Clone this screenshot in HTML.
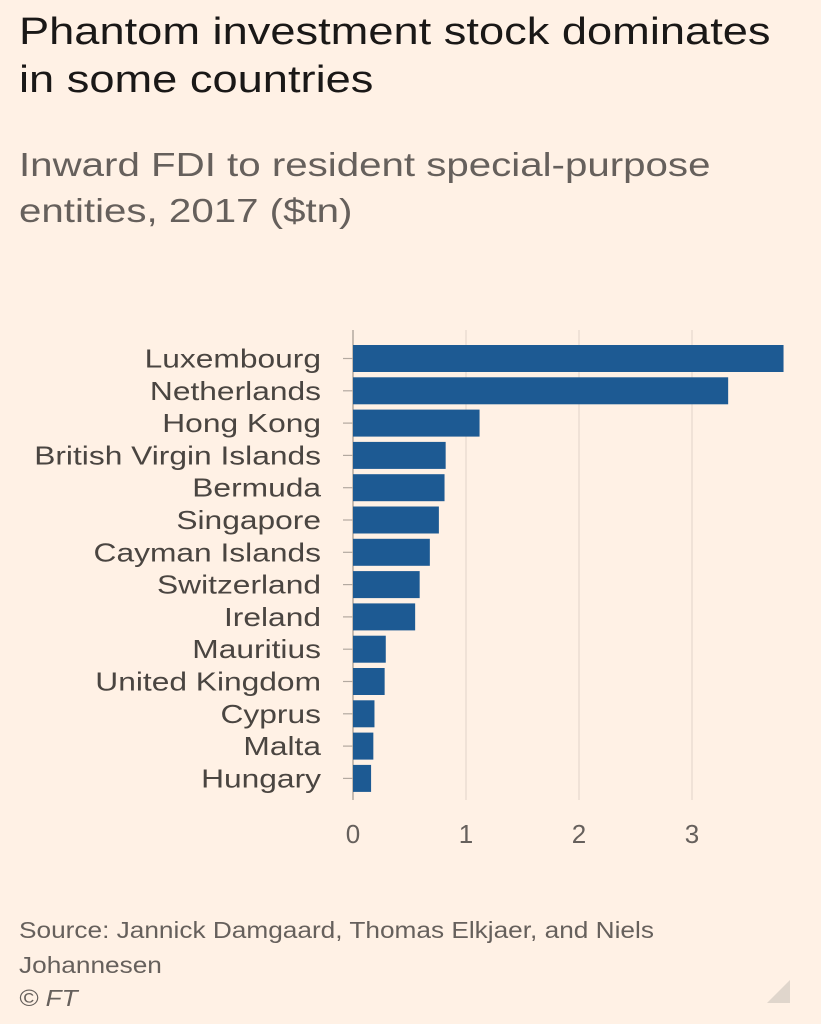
<!DOCTYPE html>
<html><head><meta charset="utf-8">
<style>
body{margin:0;background:#fff1e5;width:821px;height:1024px;overflow:hidden;font-family:"Liberation Sans",sans-serif;}
#title{position:absolute;left:19px;top:8px;font-size:38px;line-height:48px;color:#1a1817;transform:scaleX(1.19);transform-origin:0 0;white-space:nowrap;}
#sub{position:absolute;left:19px;top:142px;font-size:33px;line-height:46px;color:#66605c;transform:scaleX(1.22);transform-origin:0 0;white-space:nowrap;}
#src{position:absolute;left:19px;top:913px;font-size:23px;line-height:35px;color:#66605c;transform:scaleX(1.14);transform-origin:0 0;white-space:nowrap;}
#copy{position:absolute;left:19px;top:985px;font-size:23px;font-style:italic;color:#66605c;transform:scaleX(1.14);transform-origin:0 0;}
svg{position:absolute;left:0;top:0;}
</style></head><body>
<div id="title">Phantom investment stock dominates<br>in some countries</div>
<div id="sub">Inward FDI to resident special-purpose<br>entities, 2017 ($tn)</div>
<svg id="chart" width="821" height="1024"></svg>
<div id="src">Source: Jannick Damgaard, Thomas Elkjaer, and Niels<br>Johannesen</div>
<div id="copy">© FT</div>
<svg width="821" height="1024" style="pointer-events:none"><polygon points="790,980 790,1003 767,1003" fill="#e0d6cc"/></svg>
<script>
const categories=["Luxembourg","Netherlands","Hong Kong","British Virgin Islands","Bermuda","Singapore","Cayman Islands","Switzerland","Ireland","Mauritius","United Kingdom","Cyprus","Malta","Hungary"];
const values=[3.81,3.32,1.12,0.82,0.81,0.76,0.68,0.59,0.55,0.29,0.28,0.19,0.18,0.16];
const ticks=[0,1,2,3];
const NS="http://www.w3.org/2000/svg";
const svg=document.getElementById('chart');
const x=v=>353+v*113;
const y=i=>345+i*32.3;
const bh=27;
function mk(t,a){const e=document.createElementNS(NS,t);for(const k in a)e.setAttribute(k,a[k]);svg.appendChild(e);return e;}
ticks.forEach(t=>{
  const l=mk('line',{x1:x(t),x2:x(t),y1:330,y2:800,stroke:t===0?'#b3a9a0':'#e6d9ce','stroke-width':t===0?1.5:1.2});
  
  
  const tx=mk('text',{x:x(t),y:843,'text-anchor':'middle','font-size':26,fill:'#66605c'});
  tx.textContent=t;
  
  
});
categories.forEach((c,i)=>{
  const cy=y(i)+bh/2;
  const tk=mk('line',{x1:343,x2:353,y1:cy,y2:cy,stroke:'#b3a9a0','stroke-width':1.2});
  
  
  const r=mk('rect',{x:x(0),y:y(i),width:x(values[i])-x(0),height:bh,fill:'#1d5a93'});
  
  
  const t=mk('text',{x:321,y:cy+9,'text-anchor':'end','font-size':26,fill:'#4a4541'});
  t.textContent=c;
  
  
  const w=t.getComputedTextLength();
  t.setAttribute('textLength',w*1.22);
  t.setAttribute('lengthAdjust','spacingAndGlyphs');
});
</script>
</body></html>
